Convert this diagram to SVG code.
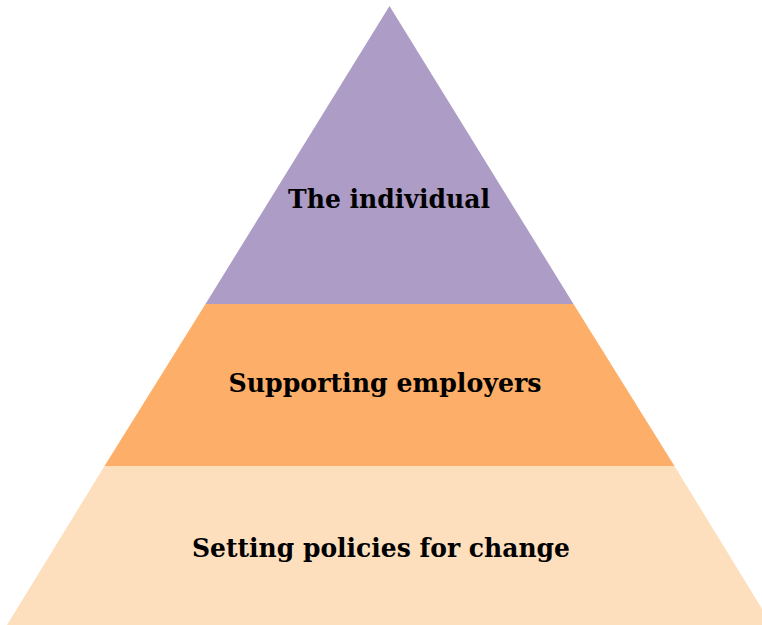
<svg xmlns="http://www.w3.org/2000/svg" width="762" height="625" viewBox="0 0 762 625">
<style>
.lbl{font-family:"DejaVu Serif","Liberation Serif",serif;font-weight:bold;font-size:26px;fill:#000;text-anchor:middle}
</style>
<rect width="762" height="625" fill="#fff"/>
<g id="layer-bottom">
<polygon points="104.5,466 674.5,466 772,625 7,625" fill="#fddfbd"/>
<text class="lbl" x="381" y="557" textLength="378" lengthAdjust="spacingAndGlyphs">Setting policies for change</text>
</g>
<g id="layer-middle">
<polygon points="205.5,304 573.5,304 674.5,466 104.5,466" fill="#fdae68"/>
<text class="lbl" x="385" y="391.5" textLength="313" lengthAdjust="spacingAndGlyphs">Supporting employers</text>
</g>
<g id="layer-top">
<polygon points="389.5,6 573.5,304 205.5,304" fill="#ac9cc6"/>
<text class="lbl" x="389" y="207.5" textLength="202" lengthAdjust="spacingAndGlyphs">The individual</text>
</g>
<g id="connectors"/>
</svg>
